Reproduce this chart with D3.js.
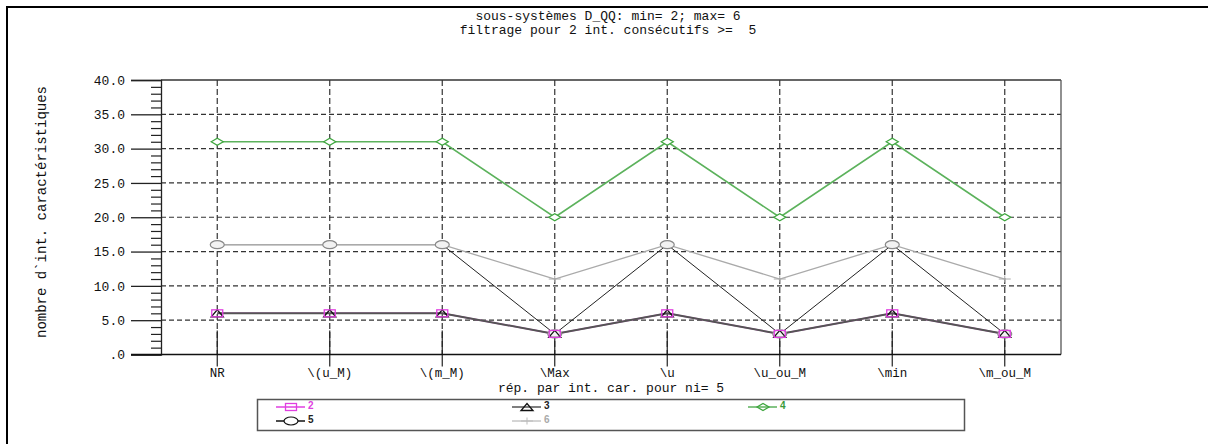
<!DOCTYPE html>
<html>
<head>
<meta charset="utf-8">
<script src="https://cdn.jsdelivr.net/npm/d3@7"></script>
<style>
  html, body { margin: 0; padding: 0; background: #fff; }
  svg { display: block; }
  .mono { font-family: "Liberation Mono", "DejaVu Sans Mono", monospace; fill: #111; white-space: pre; }
  .leg { font-family: "Liberation Sans", Arial, sans-serif; font-size: 10px; font-weight: bold; }
</style>
</head>
<body>
<svg id="chart" width="1208" height="444"></svg>
<script>
// ---- data ----
const categories = ["NR", "\\(u_M)", "\\(m_M)", "\\Max", "\\u", "\\u_ou_M", "\\min", "\\m_ou_M"];
const series2 = [6, 6, 6, 3, 6, 3, 6, 3];
const series3 = [6, 6, 6, 3, 6, 3, 6, 3];
const series4 = [31, 31, 31, 20, 31, 20, 31, 20];
const series5 = [16, 16, 16, 3, 16, 3, 16, 3];
const series6 = [16, 16, 16, 11, 16, 11, 16, 11];
const seriesNames = ["2", "3", "4", "5", "6"];
const yMajorTicks = [0, 5, 10, 15, 20, 25, 30, 35, 40];
const yMinorTicks = d3.range(0, 41, 1);
const titleLines = ["sous-systèmes D_QQ: min= 2; max= 6", "filtrage pour 2 int. consécutifs >=  5"];
const xTitle = "rép. par int. car. pour ni= 5";
const yTitle = "nombre d`int. caractéristiques";

// ---- layout ----
const svg = d3.select("#chart");
const L = 161, R = 1061, T = 80, B = 354.5;

const x = d3.scalePoint().domain(categories).range([L, R]).padding(0.5);
const y = d3.scaleLinear().domain([0, 40]).range([B, T]);

// outer frame
svg.append("path").attr("d", "M7,444V7H1208").attr("fill", "none").attr("stroke", "#000").attr("stroke-width", 2);

// titles
svg.selectAll("text.title").data(titleLines).enter().append("text")
  .attr("class", "mono").attr("xml:space", "preserve").attr("x", 608).attr("y", (d, i) => 20 + i * 13.5)
  .attr("text-anchor", "middle").style("font-size", "13px").text(d => d);

// grid horizontal
const g = svg.append("g");
g.selectAll("line.hg").data(yMajorTicks.filter(v => v > 0 && v < 40)).enter().append("line")
  .attr("x1", L).attr("x2", R).attr("y1", d => y(d)).attr("y2", d => y(d))
  .attr("stroke", "#333").attr("stroke-width", 1.2).attr("stroke-dasharray", "5,3");
// grid vertical
g.selectAll("line.vg").data(categories).enter().append("line")
  .attr("x1", d => x(d)).attr("x2", d => x(d)).attr("y1", T).attr("y2", B)
  .attr("stroke", "#333").attr("stroke-width", 1.2).attr("stroke-dasharray", "6,3");
// x ticks (solid)
g.selectAll("line.xt").data(categories).enter().append("line")
  .attr("x1", d => x(d)).attr("x2", d => x(d)).attr("y1", B - 24).attr("y2", B + 12)
  .attr("stroke", "#222").attr("stroke-width", 1.2);

// plot borders
svg.append("line").attr("x1", L).attr("x2", R).attr("y1", T).attr("y2", T).attr("stroke", "#333").attr("stroke-width", 1.3);
svg.append("line").attr("x1", R).attr("x2", R).attr("y1", T).attr("y2", B).attr("stroke", "#555").attr("stroke-width", 1.3);

// y axis with D3 axis (major)
const yAxis = d3.axisLeft(y).tickValues(yMajorTicks).tickSize(30).tickPadding(6)
  .tickFormat(d => d === 0 ? ".0" : d.toFixed(1));
const ya = svg.append("g").attr("transform", `translate(${L},0)`).call(yAxis);
ya.select(".domain").attr("stroke", "#222").attr("stroke-width", 1.3);
ya.selectAll(".tick line").attr("stroke", "#222").attr("stroke-width", 1.3);
ya.selectAll(".tick text").attr("class", "mono").style("font-size", "13px").attr("fill", "#111")
  .style("font-family", "'Liberation Mono', monospace");
// minor ticks
const yMinor = d3.axisLeft(y).tickValues(yMinorTicks.filter(v => v % 5 !== 0)).tickSize(10).tickFormat("");
const ym = svg.append("g").attr("transform", `translate(${L},0)`).call(yMinor);
ym.select(".domain").remove();
ym.selectAll(".tick line").attr("stroke", "#222").attr("stroke-width", 1.2);

// x axis line
svg.append("line").attr("x1", L - 30).attr("x2", R).attr("y1", B).attr("y2", B).attr("stroke", "#111").attr("stroke-width", 1.4);
// x labels
svg.selectAll("text.xl").data(categories).enter().append("text")
  .attr("class", "mono").attr("x", d => x(d)).attr("y", 377)
  .attr("text-anchor", "middle").style("font-size", "12.5px").text(d => d);
// axis titles
svg.append("text").attr("class", "mono").attr("x", 611).attr("y", 392)
  .attr("text-anchor", "middle").style("font-size", "13px").text(xTitle);
svg.append("text").attr("class", "mono").attr("transform", "translate(46,212) rotate(-90)")
  .attr("text-anchor", "middle").style("font-size", "14px").text(yTitle);

// ---- markers ----
const markers = {
  square: (sel, c) => sel.append("rect").attr("x", -5.5).attr("y", -3.5).attr("width", 11).attr("height", 7)
    .attr("fill", "none").attr("stroke", c.stroke).attr("stroke-width", 1.3),
  triangle: (sel, c) => sel.append("path").attr("d", "M-6,3.5L6,3.5L0,-3.5Z")
    .attr("fill", c.fill).attr("stroke", c.stroke).attr("stroke-width", 1.3),
  diamond: (sel, c) => sel.append("path").attr("d", "M-6,0L0,-3.5L6,0L0,3.5Z")
    .attr("fill", c.fill).attr("stroke", c.stroke).attr("stroke-width", 1.3),
  ellipse: (sel, c) => sel.append("ellipse").attr("rx", 7).attr("ry", 4)
    .attr("fill", c.fill).attr("stroke", c.stroke).attr("stroke-width", 1.2),
  plus: (sel, c) => sel.append("path").attr("d", "M-6,0H6M0,-3.5V3.5")
    .attr("fill", "none").attr("stroke", c.stroke).attr("stroke-width", 1)
};

const seriesDefs = [
  { name: seriesNames[0], values: series2, color: "#e03fe0", lw: 1.5, marker: "square", mstroke: "#e03fe0", mfill: "none", lstroke: "#e03fe0", lfill: "none", text: "#e03fe0" },
  { name: seriesNames[1], values: series3, color: "#555", lw: 2, marker: "triangle", mstroke: "#111", mfill: "none", lstroke: "#111", lfill: "none", text: "#222" },
  { name: seriesNames[2], values: series4, color: "#5cb25c", lw: 1.6, marker: "diamond", mstroke: "#3fa63f", mfill: "#fff", lstroke: "#3fa63f", lfill: "none", text: "#3a9a3a" },
  { name: seriesNames[3], values: series5, color: "#222", lw: 1, marker: "ellipse", mstroke: "#888", mfill: "#f2f2f2", lstroke: "#111", lfill: "#fff", text: "#222" },
  { name: seriesNames[4], values: series6, color: "#aaa", lw: 1.3, marker: "plus", mstroke: "#aaa", mfill: "none", lstroke: "#bbb", lfill: "none", text: "#aaa" }
];

const line = d3.line().x((d, i) => x(categories[i])).y(d => y(d));
seriesDefs.forEach(s => {
  svg.append("path").datum(s.values).attr("d", line)
    .attr("fill", "none").attr("stroke", s.color).attr("stroke-width", s.lw);
});
// markers drawn last-series-first so the small ones stay visible
seriesDefs.slice().reverse().forEach(s => {
  s.values.forEach((v, i) => {
    const gm = svg.append("g").attr("transform", `translate(${x(categories[i])},${y(v)})`);
    markers[s.marker](gm, { stroke: s.mstroke, fill: s.mfill });
  });
});

// ---- legend ----
svg.append("rect").attr("x", 257.5).attr("y", 399.5).attr("width", 707).attr("height", 31)
  .attr("fill", "none").attr("stroke", "#555").attr("stroke-width", 1.5);
const legCols = [276, 512, 748];
const legRows = [407, 421];
seriesDefs.forEach((s, i) => {
  const cx = legCols[i % 3], cy = legRows[Math.floor(i / 3)];
  const lg = svg.append("g").attr("transform", `translate(${cx},${cy})`);
  lg.append("line").attr("x1", 0).attr("x2", 29).attr("y1", 0).attr("y2", 0)
    .attr("stroke", s.marker === "ellipse" ? "#111" : s.color).attr("stroke-width", s.marker === "plus" ? 1 : 1.5);
  const mg = lg.append("g").attr("transform", "translate(15,0)");
  markers[s.marker](mg, { stroke: s.lstroke, fill: s.lfill });
  lg.append("text").attr("class", "leg").attr("x", 32).attr("y", 0).attr("dy", "0.15em")
    .attr("fill", s.text).text(s.name);
});
</script>
</body>
</html>
